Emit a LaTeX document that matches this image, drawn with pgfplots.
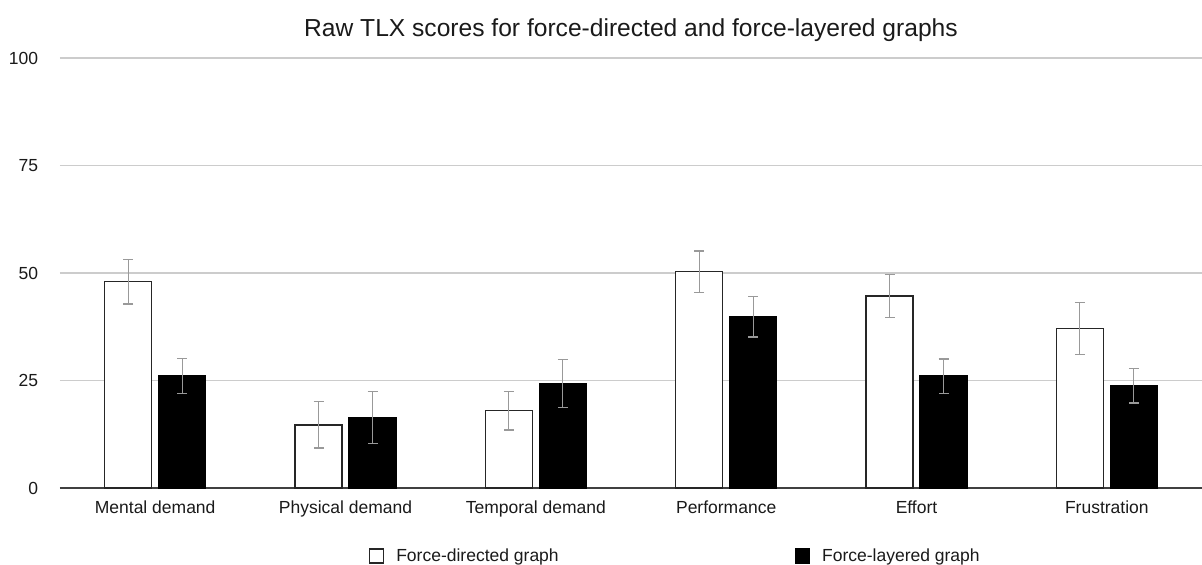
\documentclass[border=0pt]{standalone}
\usepackage{pgfplots}
\pgfplotsset{compat=1.18}
\usepackage{fontspec}
\setmainfont{Liberation Sans}
\definecolor{gridc}{HTML}{CCCCCC}
\definecolor{errc}{HTML}{999999}
\definecolor{txt}{HTML}{1A1A1A}
\begin{document}
\begin{tikzpicture}
\begin{axis}[
  at={(0,0)}, anchor=south west,
  scale only axis, width=571pt, height=215pt,
  xmin=-0.5, xmax=5.5, ymin=0, ymax=100,
  ybar=3.5pt, bar width=23.5pt,
  xtick={0,1,2,3,4,5},
  xticklabels={Mental demand,Physical demand,Temporal demand,Performance,Effort,Frustration},
  ytick={0,25,50,75,100},
  axis x line*=bottom, axis y line*=left,
  x axis line style={draw=black!75, line width=0.75pt, -},
  y axis line style={draw=none},
  major tick length=0pt,
  ymajorgrids, grid style={draw=gridc, line width=0.6pt},
  /pgf/number format/assume math mode=true,
  ticklabel style={font=\fontsize{8.75}{10}\selectfont, text=txt, inner sep=0pt},
  yticklabel style={anchor=east, xshift=-10.75pt},
  xticklabel style={anchor=north, yshift=-6pt},
  title={Raw TLX scores for force-directed and force-layered graphs},
  title style={at={(axis description cs:0.5,1)}, anchor=center, yshift=8pt, font=\fontsize{12.3}{14}\selectfont, text=txt},
  legend columns=2,
  legend style={at={(axis description cs:0.2705,-0.1585)}, anchor=west, draw=none, fill=none, inner sep=0pt, outer sep=0pt,
     font=\fontsize{8.75}{10}\selectfont, text=txt,
     nodes={inner sep=0pt},
     /tikz/every odd column/.append style={column sep=6pt},
     /tikz/every even column/.append style={column sep=118pt}},
  legend image code/.code={\draw[#1, line width=0.7pt] (0pt,-3.5pt) rectangle (7pt,3.5pt);},
]
\addplot[draw=black!85, fill=white, line width=0.75pt,
  error bars/.cd, y dir=both, y explicit,
  error bar style={draw=errc, line width=0.65pt},
  error mark options={rotate=90, mark size=2.5pt, draw=errc, line width=0.65pt}]
  coordinates {(0,48.0) +- (0,5.2) (1,14.7) +- (0,5.4) (2,18.0) +- (0,4.5) (3,50.3) +- (0,4.8) (4,44.7) +- (0,5.0) (5,37.1) +- (0,6.0)};
\addlegendentry{Force-directed graph}
\addplot[draw=black, fill=black, line width=0.75pt,
  error bars/.cd, y dir=both, y explicit,
  error bar style={draw=errc, line width=0.65pt},
  error mark options={rotate=90, mark size=2.5pt, draw=errc, line width=0.65pt}]
  coordinates {(0,26.0) +- (0,4.1) (1,16.4) +- (0,6.0) (2,24.3) +- (0,5.6) (3,39.8) +- (0,4.7) (4,26.0) +- (0,4.0) (5,23.8) +- (0,4.0)};
\addlegendentry{Force-layered graph}
\end{axis}
\pgfresetboundingbox
\path (-30pt,-38pt) rectangle (571pt,244pt);
\end{tikzpicture}
\end{document}
